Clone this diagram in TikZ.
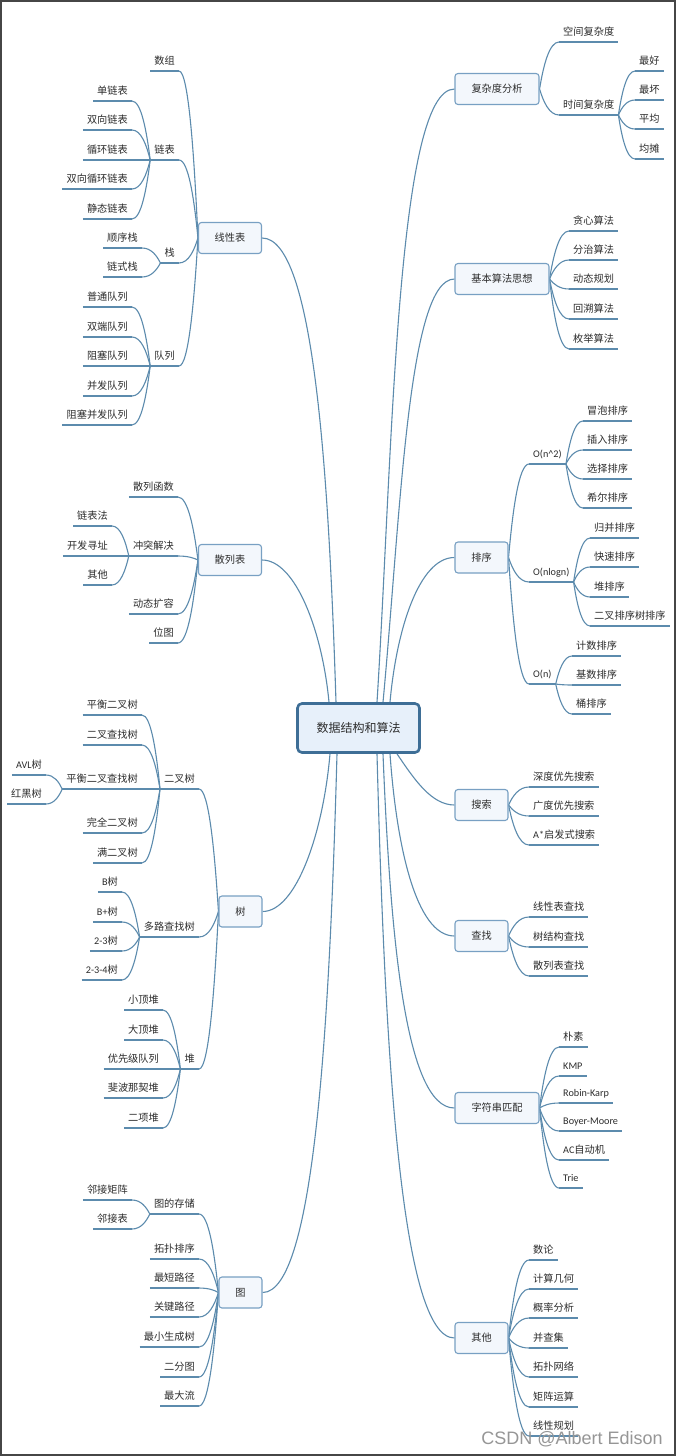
\documentclass[tikz,border=0pt]{standalone}
\usepackage{fontspec}
\setmainfont{Noto Sans CJK SC}
\newfontfamily\lat{Carlito}
\newfontfamily\wmfont{Liberation Sans}
\usetikzlibrary{calc,backgrounds}
\definecolor{linkc}{RGB}{92,139,173}
\definecolor{boxdraw}{RGB}{120,160,195}
\definecolor{boxfill}{RGB}{243,247,252}
\definecolor{rootdraw}{RGB}{62,110,150}
\definecolor{rootfill}{RGB}{231,240,250}
\definecolor{txt}{RGB}{45,45,45}
\definecolor{framec}{RGB}{70,70,70}
\definecolor{wmc}{RGB}{150,150,150}
\tikzset{
 link/.style={draw=linkc, line width=1.1pt},
 leaf/.style={font=\fontsize{10.2}{12}\selectfont, text=txt, inner xsep=4pt, inner ysep=4pt, text height=8pt, text depth=2pt},
 leafR/.style={leaf, anchor=south west},
 leafL/.style={leaf, anchor=south east},
 topic/.style={draw=boxdraw, fill=boxfill, line width=1.1pt, rounded corners=3pt, font=\fontsize{10.2}{12}\selectfont, text=txt, inner sep=0pt, minimum height=31pt},
 rootbox/.style={draw=rootdraw, fill=rootfill, line width=2.6pt, rounded corners=4.5pt, font=\fontsize{12}{14}\selectfont, text=txt, minimum width=122pt, minimum height=49pt, inner sep=0pt}
}
\newcommand{\mmlinkx}[5]{\draw[link] let \p1=(#1), \p2=(#2) in (\p1) .. controls ({(\x1)+#3*((\x2)-(\x1))},{(\y1)+#4*((\y2)-(\y1))}) and ({(\x1)+#5*((\x2)-(\x1))},{\y2}) .. (\p2);}
\newcommand{\mmlink}[2]{\mmlinkx{#1}{#2}{0.2}{0.5}{0.5}}
\newcommand{\uline}[1]{\draw[link] (#1.south west) -- (#1.south east);}
\newcommand{\rchild}[2]{\uline{#2}\mmlink{#1}{#2.south west}}
\newcommand{\lchild}[2]{\uline{#2}\mmlink{#1}{#2.south east}}
\begin{document}
\begin{tikzpicture}[x=1pt,y=-1pt]
\useasboundingbox (0,0) rectangle (676,1456);
\begin{pgfonlayer}{background}
\fill[white] (0,0) rectangle (676,1456);
\end{pgfonlayer}
% root
\node[rootbox] (root) at (358.5,728) {数据结构和算法};
% right: complexity
\node[topic, minimum width=84pt] (t1) at (497,89) {复杂度分析};
\node[leafR] (t1a) at (559,42) {空间复杂度};
\node[leafR] (t1b) at (559,115) {时间复杂度};
\node[leafR] (t1b1) at (635,71) {最好};
\node[leafR] (t1b2) at (635,100) {最坏};
\node[leafR] (t1b3) at (635,129) {平均};
\node[leafR] (t1b4) at (635,159) {均摊};
% right: basic algorithms
\node[topic, minimum width=94pt] (t2) at (502,279) {基本算法思想};
\node[leafR] (t2a) at (569,231) {贪心算法};
\node[leafR] (t2b) at (569,260) {分治算法};
\node[leafR] (t2c) at (569,289) {动态规划};
\node[leafR] (t2d) at (569,319) {回溯算法};
\node[leafR] (t2e) at (569,349) {枚举算法};
% right: sorting
\node[topic, minimum width=53pt] (t3) at (481.5,557.5) {排序};
\node[leafR] (t3a) at (529,464) {\lat O(n\textasciicircum 2)};
\node[leafR] (t3a1) at (583,421) {冒泡排序};
\node[leafR] (t3a2) at (583,450) {插入排序};
\node[leafR] (t3a3) at (583,479) {选择排序};
\node[leafR] (t3a4) at (583,508) {希尔排序};
\node[leafR] (t3b) at (529,582) {\lat O(nlogn)};
\node[leafR] (t3b1) at (590,538) {归并排序};
\node[leafR] (t3b2) at (590,567) {快速排序};
\node[leafR] (t3b3) at (590,597) {堆排序};
\node[leafR] (t3b4) at (590,626) {二叉排序树排序};
\node[leafR] (t3c) at (529,684) {\lat O(n)};
\node[leafR] (t3c1) at (572,656) {计数排序};
\node[leafR] (t3c2) at (572,685) {基数排序};
\node[leafR] (t3c3) at (572,714) {桶排序};
% right: search
\node[topic, minimum width=53pt] (t8) at (481.5,805) {搜索};
\node[leafR] (t8a) at (529,787) {深度优先搜索};
\node[leafR] (t8b) at (529,816) {广度优先搜索};
\node[leafR] (t8c) at (529,845) {{\lat A*}启发式搜索};
% right: lookup
\node[topic, minimum width=53pt] (t9) at (481.5,936) {查找};
\node[leafR] (t9a) at (529,917) {线性表查找};
\node[leafR] (t9b) at (529,947) {树结构查找};
\node[leafR] (t9c) at (529,976) {散列表查找};
% right: string matching
\node[topic, minimum width=84pt] (t10) at (497,1108) {字符串匹配};
\node[leafR] (t10a) at (559,1047) {朴素};
\node[leafR] (t10b) at (559,1076) {\lat KMP};
\node[leafR] (t10c) at (559,1103) {\lat Robin-Karp};
\node[leafR] (t10d) at (559,1131) {\lat Boyer-Moore};
\node[leafR] (t10e) at (559,1160) {{\lat AC}自动机};
\node[leafR] (t10f) at (559,1188) {\lat Trie};
% right: others
\node[topic, minimum width=53pt] (t11) at (481.5,1338) {其他};
\node[leafR] (t11a) at (529,1260) {数论};
\node[leafR] (t11b) at (529,1289) {计算几何};
\node[leafR] (t11c) at (529,1318) {概率分析};
\node[leafR] (t11d) at (529,1348) {并查集};
\node[leafR] (t11e) at (529,1377) {拓扑网络};
\node[leafR] (t11f) at (529,1407) {矩阵运算};
\node[leafR] (t11g) at (529,1436) {线性规划};
% left: linear list
\node[topic, minimum width=63pt] (t4) at (230,238) {线性表};
\node[leafL] (t4a) at (179,71) {数组};
\node[leafL] (t4b) at (179,160) {链表};
\node[leafL] (t4b1) at (132,101) {单链表};
\node[leafL] (t4b2) at (132,130) {双向链表};
\node[leafL] (t4b3) at (132,160) {循环链表};
\node[leafL] (t4b4) at (132,189) {双向循环链表};
\node[leafL] (t4b5) at (132,219) {静态链表};
\node[leafL] (t4c) at (179,263) {栈};
\node[leafL] (t4c1) at (142,248) {顺序栈};
\node[leafL] (t4c2) at (142,277) {链式栈};
\node[leafL] (t4d) at (179,366) {队列};
\node[leafL] (t4d1) at (132,307) {普通队列};
\node[leafL] (t4d2) at (132,337) {双端队列};
\node[leafL] (t4d3) at (132,366) {阻塞队列};
\node[leafL] (t4d4) at (132,396) {并发队列};
\node[leafL] (t4d5) at (132,425) {阻塞并发队列};
% left: hash table
\node[topic, minimum width=63pt] (t5) at (230,560) {散列表};
\node[leafL] (t5a) at (178,497) {散列函数};
\node[leafL] (t5b) at (178,556) {冲突解决};
\node[leafL] (t5b1) at (112,526) {链表法};
\node[leafL] (t5b2) at (112,556) {开发寻址};
\node[leafL] (t5b3) at (112,585) {其他};
\node[leafL] (t5c) at (178,614) {动态扩容};
\node[leafL] (t5d) at (178,643) {位图};
% left: tree
\node[topic, minimum width=43pt] (t6) at (240.5,911.5) {树};
\node[leafL] (t6a) at (199,789) {二叉树};
\node[leafL] (t6a1) at (142,715) {平衡二叉树};
\node[leafL] (t6a2) at (142,745) {二叉查找树};
\node[leafL] (t6a3) at (142,789) {平衡二叉查找树};
\node[leafL] (t6a31) at (46,775) {{\lat AVL}树};
\node[leafL] (t6a32) at (46,804) {红黑树};
\node[leafL] (t6a4) at (142,833) {完全二叉树};
\node[leafL] (t6a5) at (142,863) {满二叉树};
\node[leafL] (t6b) at (199,937) {多路查找树};
\node[leafL] (t6b1) at (122,892) {{\lat B}树};
\node[leafL] (t6b2) at (122,922) {{\lat B+}树};
\node[leafL] (t6b3) at (122,951) {{\lat 2-3}树};
\node[leafL] (t6b4) at (122,980) {{\lat 2-3-4}树};
\node[leafL] (t6c) at (199,1069) {堆};
\node[leafL] (t6c1) at (163,1010) {小顶堆};
\node[leafL] (t6c2) at (163,1040) {大顶堆};
\node[leafL] (t6c3) at (163,1069) {优先级队列};
\node[leafL] (t6c4) at (163,1098) {斐波那契堆};
\node[leafL] (t6c5) at (163,1128) {二项堆};
% left: graph
\node[topic, minimum width=43pt] (t7) at (240.5,1292.5) {图};
\node[leafL] (t7a) at (199,1214) {图的存储};
\node[leafL] (t7a1) at (132,1200) {邻接矩阵};
\node[leafL] (t7a2) at (132,1229) {邻接表};
\node[leafL] (t7b) at (199,1259) {拓扑排序};
\node[leafL] (t7c) at (199,1288) {最短路径};
\node[leafL] (t7d) at (199,1317) {关键路径};
\node[leafL] (t7e) at (199,1347) {最小生成树};
\node[leafL] (t7f) at (199,1377) {二分图};
\node[leafL] (t7g) at (199,1406) {最大流};
% watermark
\node[font=\wmfont\fontsize{18}{20}\selectfont, text=wmc] (wm) at (572,1439) {CSDN @Albert Edison};
% attachment points on root
\coordinate (rA) at ($(root.north)+(-22.5,0)$);
\coordinate (rB) at ($(root.north)+(-29.5,0)$);
\coordinate (rC) at ($(root.north)+(18.5,0)$);
\coordinate (rD) at ($(root.north)+(24.5,0)$);
\coordinate (rE) at ($(root.north)+(31.5,0)$);
\coordinate (rF) at ($(root.south)+(-28.5,0)$);
\coordinate (rG) at ($(root.south)+(-21.5,0)$);
\coordinate (rH) at ($(root.south)+(18.5,0)$);
\coordinate (rI) at ($(root.south)+(24.5,0)$);
\coordinate (rJ) at ($(root.south)+(31.5,0)$);
\coordinate (rK) at ($(root.south)+(38.5,0)$);
\begin{pgfonlayer}{background}
% main branches
\mmlinkx{rA}{t4.east}{0.1}{0.5}{0.3}
\mmlinkx{rB}{t5.east}{0.1}{0.5}{0.5}
\mmlinkx{rC}{t1.west}{0.2}{0.4}{0.25}
\mmlinkx{rD}{t2.west}{0.25}{0.45}{0.35}
\mmlinkx{rE}{t3.west}{0.1}{0.5}{0.45}
\mmlinkx{rF}{t6.east}{0.1}{0.5}{0.5}
\mmlinkx{rG}{t7.east}{0.1}{0.5}{0.3}
\mmlinkx{rH}{t11.west}{0.1}{0.5}{0.3}
\mmlinkx{rI}{t10.west}{0.1}{0.5}{0.3}
\mmlinkx{rJ}{t9.west}{0.1}{0.5}{0.4}
\mmlinkx{rK}{t8.west}{0.3}{0.5}{0.6}
% complexity
\rchild{t1.east}{t1a}
\rchild{t1.east}{t1b}
\rchild{t1b.south east}{t1b1}
\rchild{t1b.south east}{t1b2}
\rchild{t1b.south east}{t1b3}
\rchild{t1b.south east}{t1b4}
% basic
\rchild{t2.east}{t2a}
\rchild{t2.east}{t2b}
\rchild{t2.east}{t2c}
\rchild{t2.east}{t2d}
\rchild{t2.east}{t2e}
% sorting
\rchild{t3.east}{t3a}
\rchild{t3.east}{t3b}
\rchild{t3.east}{t3c}
\rchild{t3a.south east}{t3a1}
\rchild{t3a.south east}{t3a2}
\rchild{t3a.south east}{t3a3}
\rchild{t3a.south east}{t3a4}
\rchild{t3b.south east}{t3b1}
\rchild{t3b.south east}{t3b2}
\rchild{t3b.south east}{t3b3}
\rchild{t3b.south east}{t3b4}
\rchild{t3c.south east}{t3c1}
\rchild{t3c.south east}{t3c2}
\rchild{t3c.south east}{t3c3}
% search, lookup
\rchild{t8.east}{t8a}
\rchild{t8.east}{t8b}
\rchild{t8.east}{t8c}
\rchild{t9.east}{t9a}
\rchild{t9.east}{t9b}
\rchild{t9.east}{t9c}
% string matching
\rchild{t10.east}{t10a}
\rchild{t10.east}{t10b}
\rchild{t10.east}{t10c}
\rchild{t10.east}{t10d}
\rchild{t10.east}{t10e}
\rchild{t10.east}{t10f}
% others
\rchild{t11.east}{t11a}
\rchild{t11.east}{t11b}
\rchild{t11.east}{t11c}
\rchild{t11.east}{t11d}
\rchild{t11.east}{t11e}
\rchild{t11.east}{t11f}
\rchild{t11.east}{t11g}
% linear list
\lchild{t4.west}{t4a}
\lchild{t4.west}{t4b}
\lchild{t4.west}{t4c}
\lchild{t4.west}{t4d}
\lchild{t4b.south west}{t4b1}
\lchild{t4b.south west}{t4b2}
\lchild{t4b.south west}{t4b3}
\lchild{t4b.south west}{t4b4}
\lchild{t4b.south west}{t4b5}
\lchild{t4c.south west}{t4c1}
\lchild{t4c.south west}{t4c2}
\lchild{t4d.south west}{t4d1}
\lchild{t4d.south west}{t4d2}
\lchild{t4d.south west}{t4d3}
\lchild{t4d.south west}{t4d4}
\lchild{t4d.south west}{t4d5}
% hash
\lchild{t5.west}{t5a}
\lchild{t5.west}{t5b}
\lchild{t5.west}{t5c}
\lchild{t5.west}{t5d}
\lchild{t5b.south west}{t5b1}
\lchild{t5b.south west}{t5b2}
\lchild{t5b.south west}{t5b3}
% tree
\lchild{t6.west}{t6a}
\lchild{t6.west}{t6b}
\lchild{t6.west}{t6c}
\lchild{t6a.south west}{t6a1}
\lchild{t6a.south west}{t6a2}
\lchild{t6a.south west}{t6a3}
\lchild{t6a.south west}{t6a4}
\lchild{t6a.south west}{t6a5}
\lchild{t6a3.south west}{t6a31}
\lchild{t6a3.south west}{t6a32}
\lchild{t6b.south west}{t6b1}
\lchild{t6b.south west}{t6b2}
\lchild{t6b.south west}{t6b3}
\lchild{t6b.south west}{t6b4}
\lchild{t6c.south west}{t6c1}
\lchild{t6c.south west}{t6c2}
\lchild{t6c.south west}{t6c3}
\lchild{t6c.south west}{t6c4}
\lchild{t6c.south west}{t6c5}
% graph
\lchild{t7.west}{t7a}
\lchild{t7.west}{t7b}
\lchild{t7.west}{t7c}
\lchild{t7.west}{t7d}
\lchild{t7.west}{t7e}
\lchild{t7.west}{t7f}
\lchild{t7.west}{t7g}
\lchild{t7a.south west}{t7a1}
\lchild{t7a.south west}{t7a2}
\end{pgfonlayer}
% frame
\draw[draw=framec, line width=2pt] (1,1) rectangle (675,1455);
\end{tikzpicture}
\end{document}
